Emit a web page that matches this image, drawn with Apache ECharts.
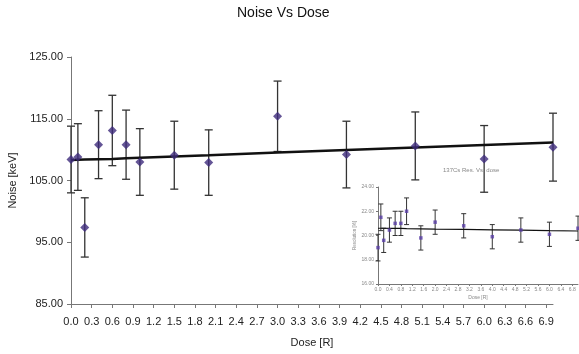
<!DOCTYPE html>
<html>
<head>
<meta charset="utf-8">
<script src="https://cdn.jsdelivr.net/npm/echarts@6/dist/echarts.min.js"></script>
<style>
  html, body { margin: 0; padding: 0; background: #fff; }
  #chart { width: 579px; height: 354px; }
</style>
</head>
<body>
<div id="chart"></div>
<script>
// dose points (R), shared by the main chart and the inset
var doses = [0, 0.1, 0.2, 0.4, 0.6, 0.8, 1.0, 1.5, 2.0, 3.0, 4.0, 5.0, 6.0, 7.0];

// main chart: noise [keV]
var noise = [108.4, 108.8, 97.4, 110.8, 113.1, 110.8, 108.0, 109.1, 107.9, 115.4, 109.2, 110.6, 108.5, 110.4];
var noiseErr = [5.4, 5.4, 4.8, 5.5, 5.7, 5.6, 5.4, 5.5, 5.3, 5.7, 5.4, 5.5, 5.4, 5.5];
var noiseTrend = [108.3, 108.35, 108.4, 108.45, 108.5, 108.6, 108.7, 108.9, 109.1, 109.55, 109.95, 110.35, 110.75, 111.15];
var noiseTicks = [85, 95, 105, 115, 125];

// inset: 137Cs resolution [%]
var resolution = [19.0, 21.5, 19.6, 20.45, 21.0, 21.0, 22.0, 19.8, 21.1, 20.8, 19.9, 20.45, 20.1, 20.6];
var resErr = [1.1, 1.1, 1.0, 1.0, 1.0, 1.0, 1.1, 1.0, 1.0, 1.0, 1.0, 1.0, 1.0, 1.0];
var resTrend = [20.6, 20.6, 20.6, 20.59, 20.58, 20.58, 20.57, 20.55, 20.53, 20.5, 20.47, 20.44, 20.4, 20.37];
var resTicks = [16, 18, 20, 22, 24];

var FONT = 'Liberation Sans, Arial, sans-serif';
var MARK = '#3d2a7c';

function pts(ys) {
    return doses.map(function (d, i) { return [d, ys[i]]; });
}
function bars(ys, errs) {
    return doses.map(function (d, i) { return [d, ys[i] - errs[i], ys[i] + errs[i]]; });
}
function errorBar(cap, width) {
    return function (params, api) {
        var x = api.value(0);
        var lo = api.coord([x, api.value(1)]);
        var hi = api.coord([x, api.value(2)]);
        var st = {stroke: '#333', lineWidth: width};
        return {
            type: 'group',
            children: [
                {type: 'line', shape: {x1: hi[0], y1: hi[1], x2: lo[0], y2: lo[1]}, style: st},
                {type: 'line', shape: {x1: hi[0] - cap, y1: hi[1], x2: hi[0] + cap, y2: hi[1]}, style: st},
                {type: 'line', shape: {x1: lo[0] - cap, y1: lo[1], x2: lo[0] + cap, y2: lo[1]}, style: st}
            ]
        };
    };
}

var chart = echarts.init(document.getElementById('chart'));

chart.setOption({
    backgroundColor: '#fff',
    animation: false,
    title: [{
        text: 'Noise Vs Dose',
        left: 232, top: 1,
        textStyle: {fontFamily: FONT, fontSize: 14, fontWeight: 'normal', color: '#111'}
    }, {
        text: '137Cs Res. Vs. dose',
        left: 438, top: 162,
        textStyle: {fontFamily: FONT, fontSize: 6, fontWeight: 'normal', color: '#888'}
    }],
    grid: [
        {left: 71, top: 57, right: 26, bottom: 50, outerBoundsMode: 'none'},
        {left: 378, top: 187, right: 1, bottom: 70, outerBoundsMode: 'none'}
    ],
    xAxis: [{
        gridIndex: 0,
        type: 'value',
        min: 0, max: 7, interval: 0.3,
        name: 'Dose [R]', nameLocation: 'middle', nameGap: 33,
        nameTextStyle: {fontFamily: FONT, fontSize: 11, color: '#222'},
        axisLine: {lineStyle: {color: '#777'}},
        axisTick: {length: 4, lineStyle: {color: '#777'}},
        splitLine: {show: false},
        axisLabel: {
            fontFamily: FONT, fontSize: 11, color: '#222', margin: 12,
            showMaxLabel: false,
            formatter: function (v) { return v.toFixed(1); }
        }
    }, {
        gridIndex: 1,
        type: 'value',
        min: 0, max: 7, interval: 0.4,
        name: 'Dose [R]', nameLocation: 'middle', nameGap: 11,
        nameTextStyle: {fontFamily: FONT, fontSize: 5, color: '#888'},
        axisLine: {lineStyle: {color: '#777'}},
        axisTick: {length: 2, lineStyle: {color: '#777'}},
        splitLine: {show: false},
        axisLabel: {
            fontFamily: FONT, fontSize: 5, color: '#888', margin: 3,
            showMaxLabel: false,
            formatter: function (v) { return v.toFixed(1); }
        }
    }],
    yAxis: [{
        gridIndex: 0,
        type: 'value',
        min: noiseTicks[0], max: noiseTicks[noiseTicks.length - 1], interval: 10,
        name: 'Noise [keV]', nameLocation: 'middle', nameGap: 50,
        nameTextStyle: {fontFamily: FONT, fontSize: 11, color: '#222'},
        axisLine: {show: true, lineStyle: {color: '#777'}},
        axisTick: {show: true, length: 4, lineStyle: {color: '#777'}},
        splitLine: {show: false},
        axisLabel: {
            fontFamily: FONT, fontSize: 11, color: '#222', margin: 8,
            formatter: function (v) { return v.toFixed(2); }
        }
    }, {
        gridIndex: 1,
        type: 'value',
        min: resTicks[0], max: resTicks[resTicks.length - 1], interval: 2,
        name: 'Resolution [%]', nameLocation: 'middle', nameGap: 18,
        nameTextStyle: {fontFamily: FONT, fontSize: 4.5, color: '#888'},
        axisLine: {show: true, lineStyle: {color: '#777'}},
        axisTick: {show: true, length: 2, lineStyle: {color: '#777'}},
        splitLine: {show: false},
        axisLabel: {
            fontFamily: FONT, fontSize: 5, color: '#888', margin: 4,
            formatter: function (v) { return v.toFixed(2); }
        }
    }],
    series: [{
        type: 'custom',
        xAxisIndex: 0, yAxisIndex: 0,
        renderItem: errorBar(4, 1.3),
        data: bars(noise, noiseErr),
        z: 2
    }, {
        type: 'line',
        xAxisIndex: 0, yAxisIndex: 0,
        data: pts(noiseTrend),
        symbol: 'none',
        lineStyle: {color: '#111', width: 2.5},
        z: 3
    }, {
        type: 'scatter',
        xAxisIndex: 0, yAxisIndex: 0,
        data: pts(noise),
        symbol: 'diamond', symbolSize: 9,
        itemStyle: {color: MARK},
        z: 4
    }, {
        type: 'custom',
        xAxisIndex: 1, yAxisIndex: 1,
        renderItem: errorBar(2.5, 1),
        data: bars(resolution, resErr),
        z: 2
    }, {
        type: 'line',
        xAxisIndex: 1, yAxisIndex: 1,
        data: pts(resTrend),
        symbol: 'none',
        lineStyle: {color: '#111', width: 1.2},
        z: 3
    }, {
        type: 'scatter',
        xAxisIndex: 1, yAxisIndex: 1,
        data: pts(resolution),
        symbol: 'rect', symbolSize: 3.5,
        itemStyle: {color: '#5a3fa8'},
        z: 4
    }]
});
</script>
</body>
</html>
